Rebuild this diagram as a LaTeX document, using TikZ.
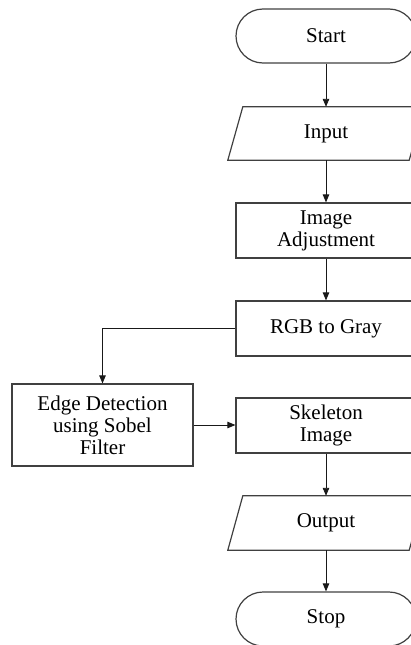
\documentclass[tikz,border=0pt]{standalone}
\usepackage{fontspec}
\setmainfont{Liberation Serif}
\usetikzlibrary{arrows.meta}
\begin{document}
\begin{tikzpicture}[x=1pt,y=-1pt,
  lbl/.style={inner sep=0pt, align=center, font=\fontsize{21}{22}\selectfont},
  box/.style={lbl, draw=black!75, line width=1.2pt, minimum width=180pt, minimum height=55pt},
  term/.style={box, rounded corners=27pt, minimum height=54pt},
  io/.style={lbl, minimum width=181pt, minimum height=54pt},
  slant/.style={draw=black!75, line width=1.2pt},
  arr/.style={-{Triangle[length=8pt,width=6.5pt]}, line width=0.9pt, draw=black!90}]
\useasboundingbox (0,0) rectangle (410,645);

% shapes
\node[term] (start) at (326,36) {Start};
\node[io, minimum height=53pt] (input) at (326,133.5) {Input};
\node[box] (adj) at (326,230.5) {Image\\Adjustment};
\node[box] (rgb) at (326,328.5) {RGB to Gray};
\node[box, minimum width=181pt, minimum height=82pt] (edge) at (102.5,425) {Edge Detection\\using Sobel\\Filter};
\node[box] (skel) at (326,425.5) {Skeleton\\Image};
\node[io] (output) at (326,523) {Output};
\node[term] (stop) at (326,619) {Stop};

% input / output parallelograms
\foreach \n in {input,output}{
  \draw[slant] ([xshift=7.5pt]\n.north west) -- ([xshift=7.5pt]\n.north east)
    -- ([xshift=-7.5pt]\n.south east) -- ([xshift=-7.5pt]\n.south west) -- cycle;
}

% connectors
\draw[arr] (start) -- (input);
\draw[arr] (input) -- (adj);
\draw[arr] (adj) -- (rgb);
\draw[arr] (rgb.west) -| (edge.north);
\draw[arr] (edge.east) -- (skel.west |- edge.east);
\draw[arr] (skel) -- (output);
\draw[arr] (output) -- (stop);
\end{tikzpicture}
\end{document}
